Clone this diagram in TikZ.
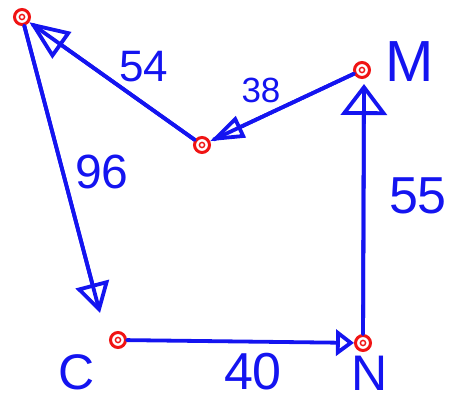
\documentclass[tikz,border=0pt]{standalone}
\usepackage{fontspec}
\setmainfont{Liberation Sans}
\usetikzlibrary{arrows.meta}
\definecolor{pen}{RGB}{20,20,240}
\definecolor{dotred}{RGB}{240,20,20}
\tikzset{
  dot/.style={circle, draw=dotred, line width=3pt, minimum size=15pt, inner sep=0pt},
  edge/.style={draw=pen, line width=3.8pt, line cap=round, line join=round},
  lbl/.style={text=pen, inner sep=0pt},
}
\begin{document}
\begin{tikzpicture}[x=1pt,y=-1pt]
\useasboundingbox (0,0) rectangle (453,401);
% vertices
\node[dot] (G) at (22,17) {};
\node[dot] (P) at (202,145) {};
\node[dot] (M) at (362,70) {};
\node[dot] (C) at (118,340) {};
\node[dot] (N) at (363,343) {};
\foreach \n in {G,P,M,C,N} \draw[dotred, line width=1.4pt] (\n) circle (2.6pt);
\coordinate (c1) at (100,313);
\coordinate (m1) at (364,84);
% connectors
\draw[edge, -{Triangle[open,length=40pt,width=32pt]}] (P) -- (G);
\draw[edge, -{Triangle[open,length=34pt,width=23pt]}] (M) -- (P);
\draw[edge, -{Triangle[open,length=30pt,width=34pt]}] (G) -- (c1);
\draw[edge, -{Triangle[open,length=31pt,width=46pt]}] (N) -- (m1);
\draw[edge, -{Triangle[open,length=18pt,width=26pt]}] (C) -- (N);
% the pen stroke runs on inside each arrowhead
\draw[edge, shorten >=4pt] (P) -- (G);
\draw[edge, shorten >=4pt] (M) -- (P);
\draw[edge, shorten >=4pt] (G) -- (c1);
\draw[edge, shorten >=4pt] (N) -- (m1);
% labels
\node[lbl, font=\fontsize{44}{44}\selectfont] (l54) at (144,67) {54};
\node[lbl, font=\fontsize{35}{35}\selectfont] (l38) at (261,90) {38};
\node[lbl, font=\fontsize{48}{48}\selectfont] (l96) at (102,172) {96};
\node[lbl, font=\fontsize{52}{52}\selectfont] (l55) at (418,196) {55};
\node[lbl, font=\fontsize{52}{52}\selectfont] (l40) at (253,372) {40};
\node[lbl, font=\fontsize{58}{58}\selectfont] (lM) at (410,62) {M};
\node[lbl, font=\fontsize{50}{50}\selectfont] (lC) at (77,372) {C};
\node[lbl, font=\fontsize{50}{50}\selectfont] (lN) at (370,373) {N};
\end{tikzpicture}
\end{document}
